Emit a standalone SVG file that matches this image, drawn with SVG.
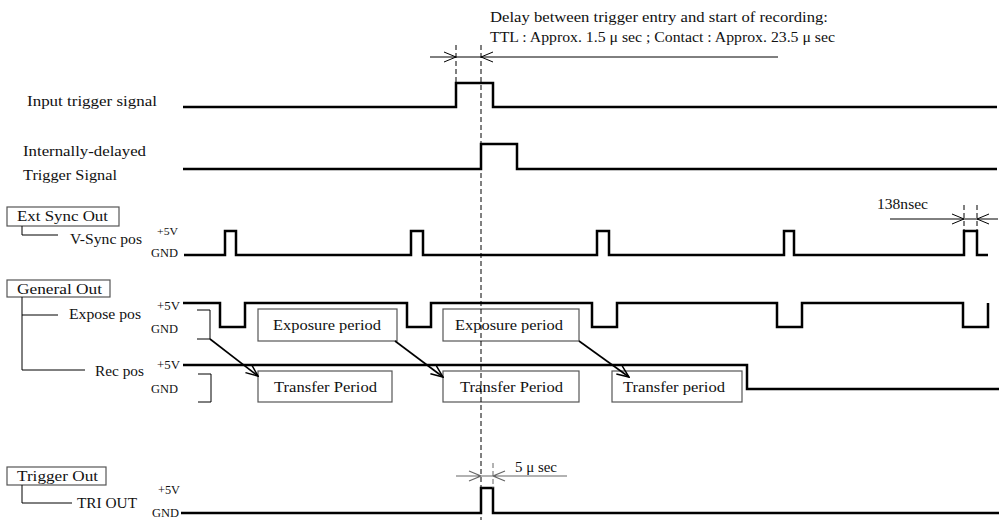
<svg xmlns="http://www.w3.org/2000/svg" width="999" height="520" viewBox="0 0 999 520" font-family="'Liberation Serif','DejaVu Serif','Times New Roman',serif">
<defs>
<style>
text{font-family:'Liberation Serif','DejaVu Serif','Times New Roman',serif;fill:#111;}
.t{font-size:15px;}
.s{font-size:11px;}
.g{font-size:12px;}
.wave{fill:none;stroke:#000;stroke-width:2.5;stroke-linejoin:miter;}
.thin{fill:none;stroke:#000;stroke-width:1;}
.gray{fill:none;stroke:#666;stroke-width:1.2;}
.dash{fill:none;stroke:#000;stroke-width:1;stroke-dasharray:5,3;}
.box{fill:#fff;stroke:#555;stroke-width:1.2;}
.arr{fill:none;stroke:#000;stroke-width:1.6;}
</style>
<marker id="ah" viewBox="0 0 14 12" refX="13" refY="6" markerWidth="14" markerHeight="12" markerUnits="userSpaceOnUse" orient="auto">
<path d="M1,1 L13,6 L1,11" fill="none" stroke="#000" stroke-width="1.5"/>
</marker>
</defs>
<rect width="999" height="520" fill="#fff"/>

<g id="delay-note">
<text class="t" x="490" y="22" textLength="338" lengthAdjust="spacingAndGlyphs">Delay between trigger entry and start of recording:</text>
<text class="t" x="490" y="42" textLength="345" lengthAdjust="spacingAndGlyphs">TTL : Approx. 1.5 μ sec ; Contact : Approx. 23.5 μ sec</text>
<path class="thin" d="M430,57 H778 M444,52 L456,57 L444,62 M493,52 L481,57 L493,62"/>
<path class="dash" d="M456,45 V83"/>
</g>

<g id="input-trigger">
<text class="t" x="27" y="106" textLength="130" lengthAdjust="spacingAndGlyphs">Input trigger signal</text>
<path class="wave" d="M183,107 H456 V83 H493 V107 H997"/>
</g>

<g id="internal-trigger">
<text class="t" x="23" y="156" textLength="123" lengthAdjust="spacingAndGlyphs">Internally-delayed</text>
<text class="t" x="23" y="180" textLength="94" lengthAdjust="spacingAndGlyphs">Trigger Signal</text>
<path class="wave" d="M183,169 H481 V144 H517 V169 H997"/>
</g>

<g id="ext-sync-out">
<rect class="box" x="7" y="207" width="112" height="19"/>
<text class="t" x="17" y="221" textLength="91" lengthAdjust="spacingAndGlyphs">Ext Sync Out</text>
</g>

<g id="vsync-pos">
<text class="t" x="70" y="244" textLength="72" lengthAdjust="spacingAndGlyphs">V-Sync pos</text>
<text class="s" x="157" y="235" textLength="21" lengthAdjust="spacingAndGlyphs">+5V</text>
<text class="g" x="151" y="257" textLength="27" lengthAdjust="spacingAndGlyphs">GND</text>
<path class="wave" d="M184,255 H225 V231 H236 V255 H411 V231 H423 V255 H597 V231 H609 V255 H784 V231 H794 V255 H964 V231 H977 V255 H988"/>
<text class="t" x="877" y="209" textLength="51" lengthAdjust="spacingAndGlyphs">138nsec</text>
<path class="thin" d="M890,219 H998 M952,214 L964,219 L952,224 M989,214 L977,219 L989,224"/>
<path class="dash" d="M964,205 V231 M977,205 V231"/>
</g>

<g id="general-out">
<rect class="box" x="7" y="280" width="103" height="17"/>
<text class="t" x="17" y="294" textLength="85" lengthAdjust="spacingAndGlyphs">General Out</text>
</g>

<g id="expose-pos">
<text class="t" x="69" y="319" textLength="72" lengthAdjust="spacingAndGlyphs">Expose pos</text>
<text class="g" x="157" y="310" textLength="23" lengthAdjust="spacingAndGlyphs">+5V</text>
<text class="g" x="151" y="333" textLength="27" lengthAdjust="spacingAndGlyphs">GND</text>
<path class="wave" d="M183,303 H220 V327 H245 V303 H407 V327 H431 V303 H592 V327 H617 V303 H777 V327 H802 V303 H963 V327 H988 V303"/>
<path class="thin" d="M197,310 H210 V339 H197"/>
</g>

<g id="rec-pos">
<text class="t" x="95" y="376" textLength="49" lengthAdjust="spacingAndGlyphs">Rec pos</text>
<text class="g" x="157" y="369" textLength="23" lengthAdjust="spacingAndGlyphs">+5V</text>
<text class="g" x="151" y="393" textLength="27" lengthAdjust="spacingAndGlyphs">GND</text>
<path class="wave" d="M183,365 H747 V389 H999"/>
<path class="thin" d="M198,374 H211 V402 H198"/>
</g>

<g id="exposure-1">
<rect class="box" x="258" y="309" width="139" height="32"/>
<text class="t" x="273" y="330" textLength="108" lengthAdjust="spacingAndGlyphs">Exposure period</text>
</g>
<g id="exposure-2">
<rect class="box" x="443" y="309" width="136" height="32"/>
<text class="t" x="455" y="330" textLength="108" lengthAdjust="spacingAndGlyphs">Exposure period</text>
</g>
<g id="transfer-1">
<rect class="box" x="258" y="371" width="134" height="31"/>
<text class="t" x="274" y="392" textLength="103" lengthAdjust="spacingAndGlyphs">Transfer Period</text>
</g>
<g id="transfer-2">
<rect class="box" x="443" y="371" width="136" height="31"/>
<text class="t" x="460" y="392" textLength="103" lengthAdjust="spacingAndGlyphs">Transfer Period</text>
</g>
<g id="transfer-3">
<rect class="box" x="612" y="371" width="130" height="31"/>
<text class="t" x="623" y="392" textLength="102" lengthAdjust="spacingAndGlyphs">Transfer period</text>
</g>

<g id="trigger-out">
<rect class="box" x="7" y="467" width="99" height="18"/>
<text class="t" x="17" y="481" textLength="81" lengthAdjust="spacingAndGlyphs">Trigger Out</text>
</g>

<g id="tri-out">
<text class="t" x="77" y="508" textLength="60" lengthAdjust="spacingAndGlyphs">TRI OUT</text>
<text class="g" x="158" y="494" textLength="22" lengthAdjust="spacingAndGlyphs">+5V</text>
<text class="g" x="152" y="517" textLength="27" lengthAdjust="spacingAndGlyphs">GND</text>
<path class="wave" d="M181,513 H481 V488 H493 V513 H999"/>
<text class="t" x="515" y="472" textLength="42" lengthAdjust="spacingAndGlyphs">5 μ sec</text>
<path class="gray" d="M456,476 H567 M469,471 L481,476 L469,481 M505,471 L493,476 L505,481"/>
<path class="dash" style="stroke:#666" d="M493,463 V488"/>
</g>

<g id="connectors">
<path class="thin" d="M22,226 V235 H58"/>
<path class="thin" d="M22,297 V370 H85 M22,315 H58"/>
<path class="thin" d="M22,485 V503 H72"/>
<path class="arr" marker-end="url(#ah)" d="M210,339 L258,376"/>
<path class="arr" marker-end="url(#ah)" d="M395,341 L443,377"/>
<path class="arr" marker-end="url(#ah)" d="M579,341 L629,377"/>
<path class="dash" d="M481,45 V520"/>
</g>
</svg>
